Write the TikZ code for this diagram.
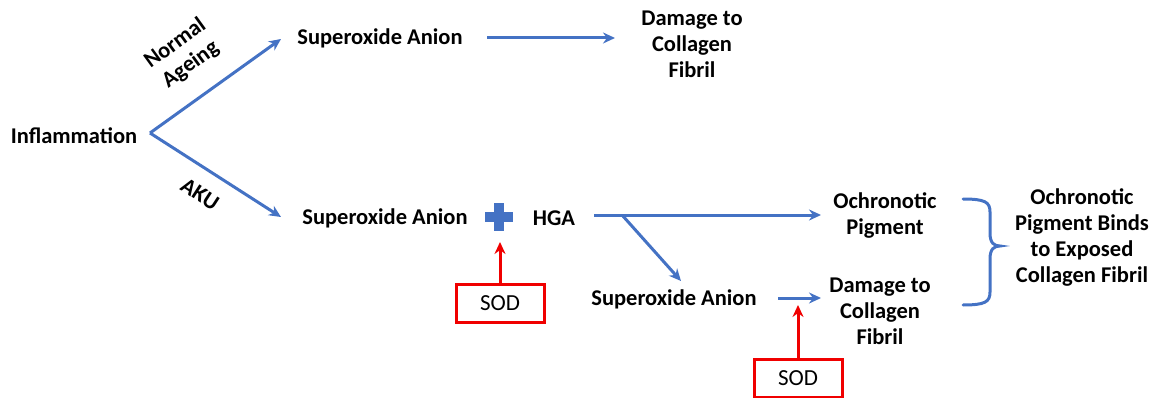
\documentclass[tikz,border=0pt]{standalone}
\usepackage{fontspec}
\setmainfont{Carlito}
\usetikzlibrary{arrows.meta}
\definecolor{oblue}{HTML}{4472C4}
\definecolor{ored}{HTML}{F00000}
\begin{document}
\begin{tikzpicture}[x=1pt,y=-1pt,
  lbl/.style={font=\fontsize{22.5}{26}\selectfont\bfseries, align=center, inner sep=0pt},
  arr/.style={draw=oblue, line width=3pt, -{Stealth[length=12pt,width=11pt]}},
  redarr/.style={draw=ored, line width=3pt, -{Stealth[length=12pt,width=11pt]}},
  sodbox/.style={draw=ored, line width=3pt, minimum width=88pt, minimum height=38pt, font=\fontsize{23}{27}\selectfont, inner sep=0pt}]
\useasboundingbox (0,0) rectangle (1166,398);
\node[lbl] (infl) at (74,136) {Inflammation};
\node[lbl] (so1) at (380,38) {Superoxide Anion};
\node[lbl] (dmg1) at (692,44) {Damage to\\Collagen\\Fibril};
\node[lbl] (so2) at (385,218) {Superoxide Anion};
\node[lbl] (hga) at (554,218) {HGA};
\node[lbl] (och) at (885,215) {Ochronotic\\Pigment};
\node[lbl] (so3) at (674,299) {Superoxide Anion};
\node[lbl] (dmg2) at (880,311) {Damage to\\Collagen\\Fibril};
\node[lbl] (res) at (1082,237) {Ochronotic\\Pigment Binds\\to Exposed\\Collagen Fibril};
\node[lbl, rotate=36] (normal) at (183,54) {Normal\\Ageing};
\node[lbl, rotate=-33] (aku) at (200,194) {AKU};
\node[sodbox] (sod1) at (500,303) {SOD};
\node[sodbox] (sod2) at (798,378) {SOD};
% plus sign
\node[fill=oblue, minimum width=28pt, minimum height=10pt, inner sep=0pt] (plush) at (499,217) {};
\node[fill=oblue, minimum width=10pt, minimum height=28pt, inner sep=0pt] (plusv) at (499,217) {};
\coordinate (fork) at (150,133);
\coordinate (t1) at (281,39);
\coordinate (t2) at (281,217);
\draw[arr] (fork) -- (t1);
\draw[arr] (fork) -- (t2);
\coordinate (a1s) at (487,38);
\coordinate (a1e) at (615,38);
\draw[arr] (a1s) -- (a1e);
\coordinate (hs) at (594,215);
\coordinate (he) at (821,215);
\coordinate (br) at (622,215);
\coordinate (bre) at (681,281);
\draw[arr] (hs) -- (he);
\draw[arr] (br) -- (bre);
\coordinate (a3s) at (778,298);
\coordinate (a3e) at (821,298);
\draw[arr] (a3s) -- (a3e);
\draw[redarr] (sod1.north) -- (500,242);
\draw[redarr] (sod2.north) -- (798,305);
% brace
\draw[oblue, line width=3pt, line cap=round]
  (963,199) .. controls (985,199) and (990,202) .. (990,212)
  -- (990,233) .. controls (990,243) and (994,246) .. (1000,246)
  .. controls (994,246) and (990,249) .. (990,259)
  -- (990,292) .. controls (990,302) and (985,305) .. (963,305);
\end{tikzpicture}
\end{document}
